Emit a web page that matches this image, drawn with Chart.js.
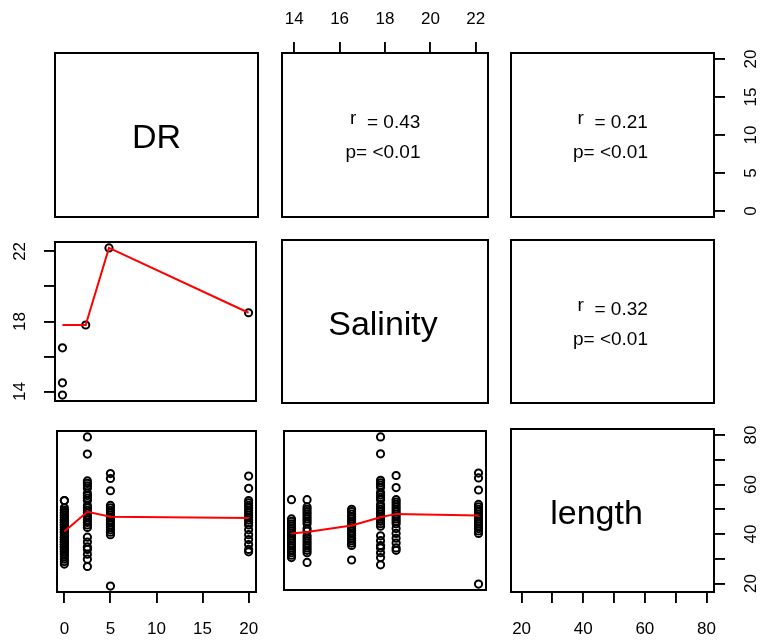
<!DOCTYPE html>
<html>
<head>
<meta charset="utf-8">
<script src="https://cdn.jsdelivr.net/npm/chart.js@4.4.0/dist/chart.umd.min.js"></script>
<style>
  body { margin: 0; background: #fff; width: 760px; height: 644px; position: relative; overflow: hidden; }
  canvas { position: absolute; }
</style>
</head>
<body>
<script>
// sampling groups: DR and salinity of each group
const groupDR = [0, 0, 0, 2.5, 5, 20];
const groupSalinity = [13.8, 14.5, 16.5, 17.8, 22.2, 18.5];

// lengths measured in each group
const lengthG1 = [54, 46, 45, 44, 43, 42, 41, 40, 39, 38, 37, 36, 35, 34, 33, 32, 31, 30];
const lengthG2 = [54, 51, 50, 49, 48, 47, 46, 45, 44, 42, 41, 39, 38, 37, 36, 35, 34, 33, 32, 28];
const lengthG3 = [50, 49, 48, 47, 46, 45, 44, 43, 42, 41, 40, 39, 38, 37, 36, 35, 29];
const lengthG4 = [80, 73, 62, 61, 60, 59, 57, 56, 55, 54, 52, 51, 50, 49, 48, 47, 46, 45, 44, 43, 39, 37, 35, 34, 32, 30, 27];
const lengthG5 = [65, 63, 58, 52, 51, 50, 49, 48, 47, 46, 45, 44, 43, 42, 41, 40, 19];
const lengthG6 = [64, 59, 54, 53, 52, 51, 50, 49, 48, 47, 46, 45, 44, 42, 40, 38, 36, 34, 33];

// smoother lines (lowess)
const smoothDR = [0, 2.5, 5, 20];
const smoothSalByDR = [17.8, 17.8, 22.2, 18.5];
const smoothLenByDR = [41.3, 49.4, 47.4, 46.8];
const smoothSal = [13.8, 14.5, 16.5, 17.8, 18.5, 22.2];
const smoothLenBySal = [40.0, 40.6, 43.3, 46.7, 48.1, 47.4];

// correlation panels
const corrR = ['0.43', '0.21', '0.32'];
const corrP = ['<0.01', '<0.01', '<0.01'];
const varNames = ['DR', 'Salinity', 'length'];

// axis ticks
const drTicks = [0, 5, 10, 15, 20];
const salinityTicks = [14, 16, 18, 20, 22];
const salinityLabels = [14, 18, 22];
const lengthTicks = [20, 30, 40, 50, 60, 70, 80];
const lengthLabels = [20, 40, 60, 80];

const FONT = "'Liberation Sans', Arial, sans-serif";
const cols = [{ left: 55, width: 203 }, { left: 282, width: 206 }, { left: 511, width: 203 }];
const rows = [{ top: 53, height: 164 }, { top: 240, height: 163 }, { top: 429, height: 163 }];
const AXIS = { top: 50, left: 52, right: 46, bottom: 50 };

const lengthGroups = [lengthG1, lengthG2, lengthG3, lengthG4, lengthG5, lengthG6];
const allLengths = lengthGroups.flat();

// R style 4% range extension
function extRange(vals) {
  const lo = Math.min(...vals), hi = Math.max(...vals), e = (hi - lo) * 0.04;
  return [lo - e, hi + e];
}
const drRange = extRange(groupDR);
const salRange = extRange(groupSalinity);
const lenRange = extRange(allLengths);

function axisOpts(pos, range, spec) {
  const horizontal = pos === 'top' || pos === 'bottom';
  const o = {
    type: 'linear', position: pos, min: range[0], max: range[1],
    display: !!spec,
    grid: { display: true, drawOnChartArea: false, drawTicks: true, tickLength: 11, color: '#000', lineWidth: 1.9 },
    border: { display: false }
  };
  if (spec) {
    o.ticks = {
      autoSkip: false, color: '#000', font: { family: FONT, size: 17 }, padding: spec.pad,
      callback: v => spec.labels.includes(v) ? String(v) : ''
    };
    if (horizontal) Object.assign(o.ticks, { minRotation: 0, maxRotation: 0 });
    else Object.assign(o.ticks, { minRotation: 90, maxRotation: 90, crossAlign: 'center' });
    o.afterBuildTicks = s => { s.ticks = spec.values.map(v => ({ value: v })); };
    o.afterFit = s => {
      if (horizontal) s.height = AXIS[pos]; else s.width = AXIS[pos];
      s.paddingLeft = s.paddingRight = s.paddingTop = s.paddingBottom = 0;
    };
  }
  return o;
}

const framePlugin = {
  id: 'frame',
  afterDraw(chart) {
    const a = chart.chartArea, ctx = chart.ctx;
    ctx.save();
    ctx.strokeStyle = '#000';
    ctx.lineWidth = 2;
    ctx.strokeRect(a.left, a.top, a.right - a.left, a.bottom - a.top);
    ctx.restore();
  }
};

function textPlugin(cfg) {
  return {
    id: 'panelText',
    afterDraw(chart) {
      const a = chart.chartArea, ctx = chart.ctx;
      const cx = (a.left + a.right) / 2;
      ctx.save();
      ctx.fillStyle = '#000';
      ctx.textBaseline = 'alphabetic';
      if (cfg.label) {
        ctx.font = '34px ' + FONT;
        ctx.textAlign = 'center';
        ctx.fillText(cfg.label, cx + cfg.labelShift, (a.top + a.bottom) / 2 + 13);
      }
      if (cfg.r) {
        ctx.font = '19px ' + FONT;
        ctx.textAlign = 'left';
        ctx.fillText('r', cx - 35, a.top + 71);
        ctx.fillText('= ' + cfg.r, cx - 18, a.top + 75);
        ctx.textAlign = 'center';
        ctx.fillText('p= ' + cfg.p, cx - 2, a.top + 105);
      }
      ctx.restore();
    }
  };
}

function pointsSet(data) {
  return {
    data, showLine: false, clip: false,
    pointRadius: 3.6, pointBorderWidth: 2, borderWidth: 2,
    pointBorderColor: '#000', borderColor: '#000',
    pointBackgroundColor: 'rgba(0,0,0,0)', backgroundColor: 'rgba(0,0,0,0)'
  };
}
function smoothSet(xs, ys) {
  return {
    data: xs.map((x, i) => ({ x, y: ys[i] })), showLine: true, clip: false,
    borderColor: '#ff0000', borderWidth: 2, pointRadius: 0, fill: false, tension: 0
  };
}

function panel(col, row, cfg) {
  const c = cols[col], r = rows[row];
  const axes = cfg.axes || {};
  const pad = {};
  ['top', 'right', 'bottom', 'left'].forEach(s => { pad[s] = axes[s] ? AXIS[s] : 4; });
  const canvas = document.createElement('canvas');
  canvas.width = c.width + pad.left + pad.right;
  canvas.height = r.height + pad.top + pad.bottom;
  canvas.style.left = (c.left - pad.left) + 'px';
  canvas.style.top = (r.top - pad.top) + 'px';
  document.body.appendChild(canvas);
  const xPos = axes.top ? 'top' : 'bottom';
  const yPos = axes.right ? 'right' : 'left';
  new Chart(canvas, {
    type: 'scatter',
    data: { datasets: cfg.datasets || [] },
    options: {
      responsive: false, animation: false, devicePixelRatio: 1,
      layout: { padding: {
        top: axes.top ? 0 : 4, bottom: axes.bottom ? 0 : 4,
        left: axes.left ? 0 : 4, right: axes.right ? 0 : 4 } },
      plugins: { legend: { display: false }, tooltip: { enabled: false } },
      scales: {
        x: axisOpts(xPos, cfg.xRange || [0, 1], axes[xPos]),
        y: axisOpts(yPos, cfg.yRange || [0, 1], axes[yPos])
      }
    },
    plugins: [framePlugin, textPlugin(cfg)]
  });
}

const drSalPoints = groupDR.map((d, i) => ({ x: d, y: groupSalinity[i] }));
const drLenPoints = lengthGroups.flatMap((g, i) => g.map(v => ({ x: groupDR[i], y: v })));
const salLenPoints = lengthGroups.flatMap((g, i) => g.map(v => ({ x: groupSalinity[i], y: v })));

// row 1
panel(0, 0, { label: varNames[0], labelShift: 0 });
panel(1, 0, { r: corrR[0], p: corrP[0], xRange: salRange,
  axes: { top: { values: salinityTicks, labels: salinityTicks, pad: 12 } } });
panel(2, 0, { r: corrR[1], p: corrP[1], yRange: drRange,
  axes: { right: { values: drTicks, labels: drTicks, pad: 16.5 } } });

// row 2
panel(0, 1, { xRange: drRange, yRange: salRange,
  datasets: [smoothSet(smoothDR, smoothSalByDR), pointsSet(drSalPoints)],
  axes: { left: { values: salinityTicks, labels: salinityLabels, pad: 14 } } });
panel(1, 1, { label: varNames[1], labelShift: -2 });
panel(2, 1, { r: corrR[2], p: corrP[2] });

// row 3
panel(0, 2, { xRange: drRange, yRange: lenRange,
  datasets: [smoothSet(smoothDR, smoothLenByDR), pointsSet(drLenPoints)],
  axes: { bottom: { values: drTicks, labels: drTicks, pad: 16 } } });
panel(1, 2, { xRange: salRange, yRange: lenRange,
  datasets: [smoothSet(smoothSal, smoothLenBySal), pointsSet(salLenPoints)] });
panel(2, 2, { label: varNames[2], labelShift: -16, xRange: lenRange, yRange: lenRange,
  axes: { bottom: { values: lengthTicks, labels: lengthLabels, pad: 16 },
          right: { values: lengthTicks, labels: lengthLabels, pad: 16.5 } } });
</script>
</body>
</html>
